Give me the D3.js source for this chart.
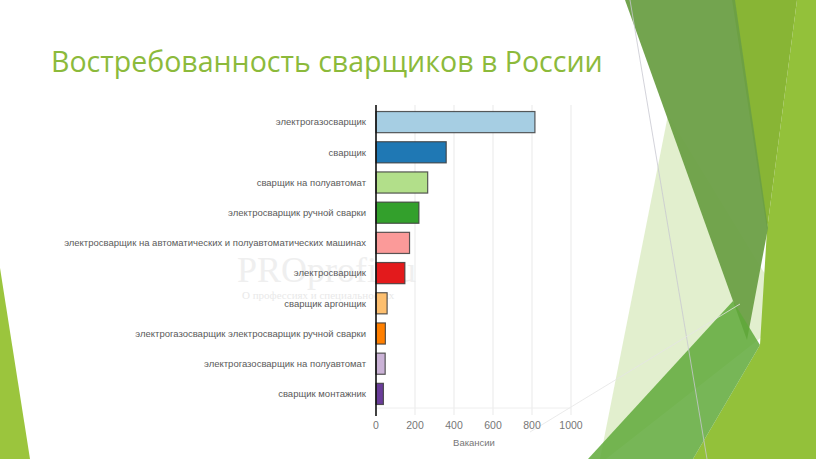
<!DOCTYPE html>
<html>
<head>
<meta charset="utf-8">
<script src="https://cdn.jsdelivr.net/npm/d3@7"></script>
<style>
  html, body { margin: 0; padding: 0; background: #fff; }
  svg { display: block; }
</style>
</head>
<body>
<svg id="chart" width="816" height="459"></svg>
<script>
const titleText = "Востребованность сварщиков в России";
const categories = [
  "электрогазосварщик",
  "сварщик",
  "сварщик на полуавтомат",
  "электросварщик ручной сварки",
  "электросварщик на автоматических и полуавтоматических машинах",
  "электросварщик",
  "сварщик аргонщик",
  "электрогазосварщик электросварщик ручной сварки",
  "электрогазосварщик на полуавтомат",
  "сварщик монтажник"
];
const values = [815, 360, 265, 220, 172, 148, 57, 48, 47, 38];
const xTicks = [0, 200, 400, 600, 800, 1000];
const xAxisLabel = "Вакансии";
const watermarkMain = "PROprofi.ru";
const watermarkSub = "О профессиях и специальностях";

const svg = d3.select("#chart");

// ---- slide decoration ----
const deco = svg.append("g");
const poly = (pts, fill, op) => deco.append("polygon")
  .attr("points", pts.map(p => p.join(",")).join(" "))
  .attr("fill", fill).attr("fill-opacity", op);
// left triangle
poly([[0,268],[30,459],[0,459]], "#9bc53d", 1);
// pale wedge
poly([[668,115],[790,315],[606,459],[600,459]], "#b9d98a", 0.42);
// bright right region
poly([[797,0],[816,0],[816,459],[693,459],[760,345],[767,230]], "#93c13a", 1);
// olive region
poly([[732,0],[797,0],[767,230]], "#88b535", 1);
// medium-dark region
poly([[625,0],[735,0],[768,228],[747,340]], "#6c9f46", 0.95);
// medium green band
poly([[588,459],[733,301],[760,345],[693,459]], "#5fa93a", 0.85);
// thin lines
deco.append("line").attr("x1",630).attr("y1",0).attr("x2",707).attr("y2",459)
  .attr("stroke","#c8c8d0").attr("stroke-width",0.8);
deco.append("line").attr("x1",530).attr("y1",432).attr("x2",740).attr("y2",304)
  .attr("stroke","#e4e4e4").attr("stroke-width",0.8);

// ---- title ----
const title = svg.append("text")
  .attr("x", 51).attr("y", 72)
  .attr("font-family", "'Open Sans', 'Noto Sans', sans-serif")
  .attr("font-size", 28)
  .attr("fill", "#8cba3b")
  .text(titleText);
const tw = title.node().getComputedTextLength();
title.attr("font-size", 28 * 552 / tw);

// ---- watermark ----
svg.append("text").attr("x", 237).attr("y", 282)
  .attr("font-family", "'Liberation Serif', 'DejaVu Serif', serif")
  .attr("font-size", 36).attr("fill", "#efefef").text(watermarkMain);
svg.append("text").attr("x", 242).attr("y", 299)
  .attr("font-family", "'Liberation Serif', 'DejaVu Serif', serif")
  .attr("font-size", 11).attr("fill", "#e9e9e9").text(watermarkSub);

// ---- chart ----
const x = d3.scaleLinear().domain([0, 1000]).range([376, 571]);
const y = d3.scaleBand().domain(categories).range([107, 409])
  .paddingInner(0.3).paddingOuter(0.15);
const color = d3.scaleOrdinal().domain(categories).range(d3.schemePaired);

const grid = svg.append("g");
grid.selectAll("line.v").data(xTicks.filter(d => d > 0)).join("line")
  .attr("x1", d => x(d)).attr("x2", d => x(d))
  .attr("y1", 105).attr("y2", 415)
  .attr("stroke", "#e9e9e9").attr("stroke-width", 1);
grid.append("line").attr("x1", x(0)).attr("x2", x(1000))
  .attr("y1", 408).attr("y2", 408).attr("stroke", "#eeeeee");

svg.append("g").selectAll("rect").data(categories).join("rect")
  .attr("x", x(0))
  .attr("y", d => y(d))
  .attr("width", (d, i) => x(values[i]) - x(0))
  .attr("height", y.bandwidth())
  .attr("fill", d => color(d))
  .attr("stroke", "#3d3d3d")
  .attr("stroke-opacity", 0.85)
  .attr("stroke-width", 1.2);

// y axis line
svg.append("line").attr("x1", x(0)).attr("x2", x(0))
  .attr("y1", 105).attr("y2", 416)
  .attr("stroke", "#111").attr("stroke-width", 1.6);

// y labels
svg.append("g").selectAll("text").data(categories).join("text")
  .attr("x", 366)
  .attr("y", d => y(d) + y.bandwidth() / 2)
  .attr("dy", "0.35em")
  .attr("text-anchor", "end")
  .attr("font-family", "'Liberation Sans', Arial, sans-serif")
  .attr("font-size", 9.5)
  .attr("fill", "#5a5a5a")
  .text(d => d);

// x tick labels
svg.append("g").selectAll("text").data(xTicks).join("text")
  .attr("x", d => x(d))
  .attr("y", 429)
  .attr("text-anchor", "middle")
  .attr("font-family", "'Liberation Sans', Arial, sans-serif")
  .attr("font-size", 10.5)
  .attr("fill", "#777")
  .text(d => d);

svg.append("text").attr("x", 474).attr("y", 446)
  .attr("text-anchor", "middle")
  .attr("font-family", "'Liberation Sans', Arial, sans-serif")
  .attr("font-size", 9.5)
  .attr("fill", "#777")
  .text(xAxisLabel);
</script>
</body>
</html>
